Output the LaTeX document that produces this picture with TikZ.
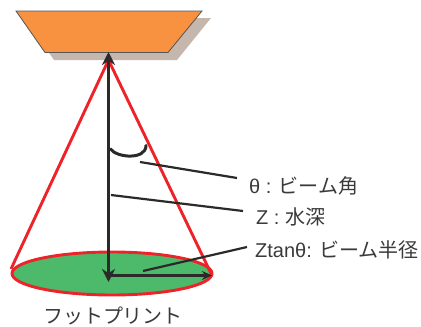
\documentclass[tikz,border=0pt]{standalone}
\usepackage{fontspec}
\setmainfont{Liberation Sans}
\newfontfamily\cjk{Noto Sans CJK JP}
\usetikzlibrary{positioning, arrows.meta, shapes.geometric}
\definecolor{Boat}{HTML}{F99240}
\definecolor{Shade}{HTML}{C5B6AE}
\definecolor{Foot}{HTML}{4DB96B}
\definecolor{Beam}{HTML}{EE2229}
\definecolor{Ink}{HTML}{2B2A29}
\definecolor{Word}{HTML}{3A3A3A}
\tikzset{
    hull/.style={fill=Boat, draw=Ink!80, line width=0.8pt},
    beamline/.style={draw=Beam, line width=2.9pt},
    axisline/.style={draw=Ink, line width=3pt},
    leader/.style={draw=Ink, line width=2.2pt},
    tag/.style={anchor=west, inner sep=0pt, text=Word, font=\fontsize{20}{22}\selectfont},
}
\begin{document}
\begin{tikzpicture}[x=1pt, y=-1pt]
    \useasboundingbox (0,0) rectangle (421,327);

    %船
    \fill[Shade] (25,18) -- (211,18) -- (177,60) -- (54,60) -- cycle;
    \draw[hull] (16,11) -- (202,11) -- (168,52.5) -- (45,52.5) -- cycle;

    % フットプリント
    \node[ellipse, draw=Beam, fill=Foot, line width=2.9pt, minimum width=200pt, minimum height=43pt, inner sep=0pt] (foot) at (112,273.5) {};
    \coordinate (apex) at (108.5,60);
    \coordinate (footL) at (11,269);
    \coordinate (footR) at (212,275.5);
    \coordinate (top) at (108.5,52);
    \coordinate (center) at (108.5,282);
    \coordinate (mid) at (108.5,275.5);
    \draw[beamline] (footL) -- (apex) -- (footR);

    % 矢印
    \draw[axisline, {Stealth[length=13pt, width=13pt]}-{Stealth[length=13pt, width=13pt]}] (top) -- (center);
    \draw[axisline, line width=2.4pt, -{Stealth[length=10pt, width=9pt]}] (mid) -- (footR);

    % ビーム角
    \coordinate (arcL) at (110.5,149);
    \coordinate (arcR) at (146,145.5);
    \draw[axisline, line cap=round] (arcL) .. controls (117,158) and (146,160) .. (arcR);

    % ラベル
    \node[tag] (angle) at (249,186) {θ : {\cjk ビーム角}};
    \node[tag] (depth) at (256,217) {Z : {\cjk 水深}};
    \node[tag] (radius) at (255,250) {Ztanθ: {\cjk ビーム半径}};
    \node[tag, anchor=center] (print) at (113,316) {\cjk フットプリント};

    \coordinate (angleA) at (140,162);
    \coordinate (angleB) at (237,178);
    \coordinate (depthA) at (111,195);
    \coordinate (depthB) at (243,211);
    \coordinate (radiusA) at (143,271);
    \coordinate (radiusB) at (247,247);
    \draw[leader] (angleA) -- (angleB);
    \draw[leader] (depthA) -- (depthB);
    \draw[leader] (radiusA) -- (radiusB);
\end{tikzpicture}
\end{document}
